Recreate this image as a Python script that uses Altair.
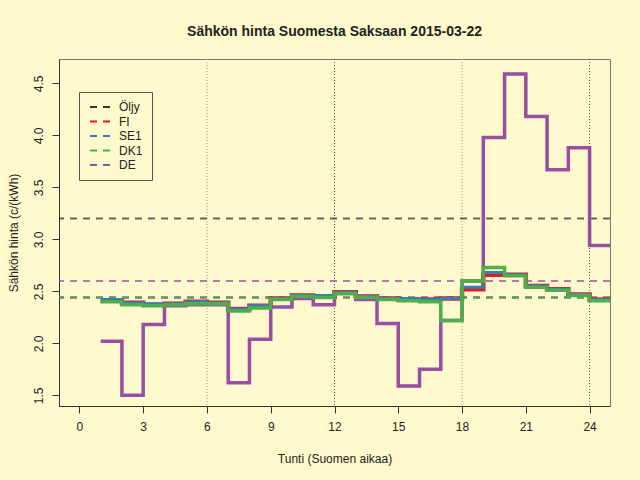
import altair as alt
import pandas as pd

# --- data ---
hours = list(range(1, 25))
fi = [2.41, 2.39, 2.37, 2.38, 2.40, 2.39, 2.33, 2.36, 2.43, 2.46, 2.45, 2.49,
      2.45, 2.43, 2.42, 2.42, 2.43, 2.52, 2.66, 2.66, 2.55, 2.52, 2.47, 2.42]
se1 = [2.42, 2.39, 2.38, 2.38, 2.40, 2.39, 2.33, 2.36, 2.43, 2.46, 2.46, 2.49,
       2.45, 2.43, 2.43, 2.42, 2.43, 2.54, 2.68, 2.66, 2.55, 2.52, 2.47, 2.42]
dk1 = [2.40, 2.37, 2.36, 2.37, 2.38, 2.38, 2.31, 2.34, 2.42, 2.45, 2.44, 2.48,
       2.44, 2.42, 2.41, 2.40, 2.22, 2.60, 2.73, 2.65, 2.54, 2.51, 2.46, 2.41]
de = [2.02, 1.50, 2.18, 2.36, 2.37, 2.37, 1.62, 2.04, 2.35, 2.43, 2.37, 2.48,
      2.42, 2.19, 1.59, 1.75, 2.22, 2.60, 3.98, 4.59, 4.18, 3.67, 3.88, 2.94]

ref_names = ["Öljy", "FI", "SE1", "DK1", "DE"]
ref_values = [3.20, 2.44, 2.44, 2.44, 2.60]
colors = ["#333333", "#E41A1C", "#377EB8", "#4DAF4A", "#984EA3"]

x_ticks = [0, 3, 6, 9, 12, 15, 18, 21, 24]
y_ticks = [1.5, 2.0, 2.5, 3.0, 3.5, 4.0, 4.5]
vlines_dark = [12, 24]
vlines_light = [6, 18]

BG = "#FFFACD"
FONT = "Liberation Sans"

# step data: each hour's value held until the next hour
rows = []
for name, vals in [("DE", de), ("FI", fi), ("SE1", se1), ("DK1", dk1)]:
    for h, v in zip(hours + [25], vals + [vals[-1]]):
        rows.append({"sarja": name, "tunti": h, "hinta": v})
steps = pd.DataFrame(rows)
refs = pd.DataFrame({"sarja": ref_names, "hinta": ref_values})

xscale = alt.Scale(domain=[-0.96, 24.96], nice=False, zero=False)
yscale = alt.Scale(domain=[1.397, 4.734], nice=False, zero=False)
cscale = alt.Scale(domain=ref_names, range=colors)

xaxis = alt.Axis(values=x_ticks, title="Tunti (Suomen aikaa)", grid=False,
                 tickSize=7, labelPadding=8, titlePadding=21, labelFlush=False)
yaxis = alt.Axis(values=y_ticks, format=".1f", title="Sähkön hinta (c/(kWh)",
                 grid=False, tickSize=7, labelAngle=-90, labelAlign="center",
                 labelBaseline="bottom", labelPadding=7, titlePadding=12,
                 labelFlush=False)

base_x = alt.X("tunti:Q", scale=xscale, axis=xaxis)
base_y = alt.Y("hinta:Q", scale=yscale, axis=yaxis)

vl_dark = alt.Chart(pd.DataFrame({"tunti": vlines_dark})).mark_rule(
    color="#555555", strokeDash=[1, 2], strokeWidth=1
).encode(x=alt.X("tunti:Q", scale=xscale, axis=xaxis))
vl_light = alt.Chart(pd.DataFrame({"tunti": vlines_light})).mark_rule(
    color="#999999", strokeDash=[1, 2], strokeWidth=1
).encode(x=alt.X("tunti:Q", scale=xscale, axis=xaxis))

ref_layer = alt.Chart(refs).mark_rule(strokeDash=[7, 6], strokeWidth=2, opacity=0.75).encode(
    y=alt.Y("hinta:Q", scale=yscale, axis=yaxis),
    color=alt.Color(
        "sarja:N", scale=cscale,
        legend=alt.Legend(
            orient="none", legendX=20, legendY=33, title=None,
            symbolType="M-1,0H4", symbolSize=64, symbolStrokeWidth=2,
            symbolDash=[7, 6], labelFont=FONT, labelFontSize=12,
            labelColor="#222222", padding=9, strokeColor="#555555",
            fillColor=BG, labelOffset=19, rowPadding=2.5, symbolOpacity=1,
            symbolFillColor="transparent",
        ),
    ),
)

layers = [vl_light, vl_dark, ref_layer]
widths = {"DE": 3.5, "FI": 4.5, "SE1": 3, "DK1": 3.5}
for name in ["DE", "FI", "SE1", "DK1"]:
    layers.append(
        alt.Chart(steps).transform_filter(alt.datum.sarja == name)
        .mark_line(interpolate="step-after", strokeWidth=widths[name], clip=True)
        .encode(x=base_x, y=base_y, color=alt.Color("sarja:N", scale=cscale))
    )

chart = alt.layer(*layers).properties(
    width=551, height=347,
    title=alt.Title("Sähkön hinta Suomesta Saksaan 2015-03-22", font=FONT,
                    fontSize=14, fontWeight="bold", color="#222222",
                    anchor="middle", offset=20),
    autosize=alt.AutoSizeParams(type="none"),
    padding={"left": 51, "top": 51, "right": 22, "bottom": 66},
    background=BG,
).configure_view(
    stroke="#777777", strokeWidth=1
).configure_axis(
    labelFont=FONT, titleFont=FONT, labelFontSize=12, titleFontSize=12,
    titleFontWeight="normal", labelColor="#222222", titleColor="#222222",
    domainColor="#333333", tickColor="#333333",
)

PAGE = """<!DOCTYPE html>
<html>
<head>
  <style>
    body { margin: 8px; background: #FFFACD; }
    #{{ output_div }}.vega-embed { width: 100%; display: flex; }
  </style>
  <script type="text/javascript" src="{{ base_url }}/vega@{{ vega_version }}"></script>
  <script type="text/javascript" src="{{ base_url }}/vega-lite@{{ vegalite_version }}"></script>
  <script type="text/javascript" src="{{ base_url }}/vega-embed@{{ vegaembed_version }}"></script>
</head>
<body>
  <div id="{{ output_div }}"></div>
  <script>
    (function(vegaEmbed) {
      var spec = {{ spec }};
      var embedOpt = {{ embed_options }};
      vegaEmbed("#{{ output_div }}", spec, embedOpt).catch(console.error);
    })(vegaEmbed);
  </script>
</body>
</html>
"""

try:
    import jinja2
    page_template = jinja2.Template(PAGE)
    chart.save("out.html", embed_options={"renderer": "svg", "actions": False},
               template=page_template)
except Exception:
    chart.save("out.html", embed_options={"renderer": "svg", "actions": False})
